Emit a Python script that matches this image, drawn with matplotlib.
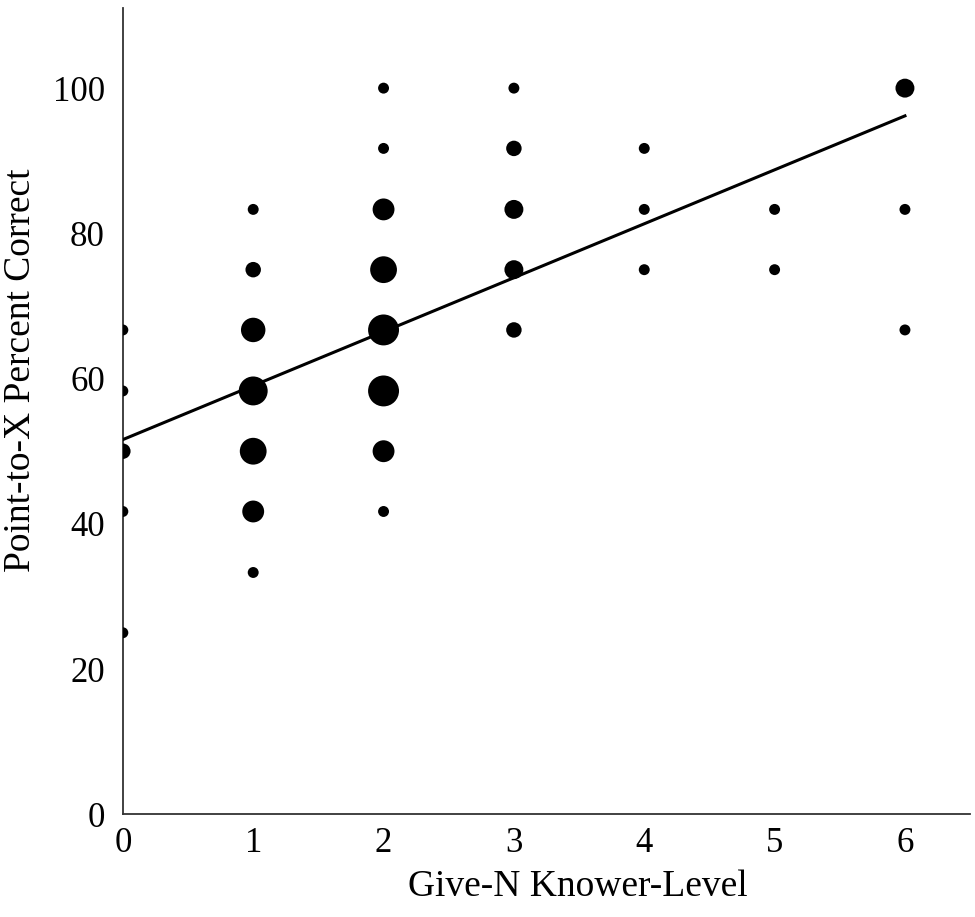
import matplotlib
matplotlib.use("Agg")
import matplotlib.pyplot as plt
import numpy as np

# Data: knower level, percent correct, number of children at that point
knower_level = [0, 0, 0, 0, 0,
                1, 1, 1, 1, 1, 1, 1,
                2, 2, 2, 2, 2, 2, 2, 2,
                3, 3, 3, 3, 3,
                4, 4, 4,
                5, 5,
                6, 6, 6]
percent_correct = [66.7, 58.3, 50.0, 41.7, 25.0,
                   83.3, 75.0, 66.7, 58.3, 50.0, 41.7, 33.3,
                   100.0, 91.7, 83.3, 75.0, 66.7, 58.3, 50.0, 41.7,
                   100.0, 91.7, 83.3, 75.0, 66.7,
                   91.7, 83.3, 75.0,
                   83.3, 75.0,
                   100.0, 83.3, 66.7]
counts = [1, 1, 2, 1, 1,
          1, 2, 5, 7, 6, 4, 1,
          1, 1, 4, 6, 8, 8, 4, 1,
          1, 2, 3, 3, 2,
          1, 1, 1,
          1, 1,
          3, 1, 1]

# Regression line
fit_x = [0, 6]
fit_intercept = 51.6
fit_slope = 7.43

x_ticks = [0, 1, 2, 3, 4, 5, 6]
y_ticks = [0, 20, 40, 60, 80, 100]

plt.rcParams['font.family'] = ['Liberation Serif', 'DejaVu Serif']

fig = plt.figure(figsize=(9.75, 9.17), dpi=100)
ax = fig.add_axes([0.126, 0.112, 0.869, 0.879])

sizes = [62 * c for c in counts]
ax.scatter(knower_level, percent_correct, s=sizes, color='black', linewidths=0, zorder=3)

fx = np.array(fit_x, dtype=float)
ax.plot(fx, fit_intercept + fit_slope * fx, color='black', linewidth=2.2, zorder=4)

ax.set_xlim(0, 6.5)
ax.set_ylim(0, 111)
ax.set_xticks(x_ticks)
ax.set_yticks(y_ticks)
ax.tick_params(axis='y', length=0, labelsize=25, pad=13)
ax.tick_params(axis='x', length=0, labelsize=25, pad=9)

for side in ['top', 'right']:
    ax.spines[side].set_visible(False)
for side in ['left', 'bottom']:
    ax.spines[side].set_color('#333333')
    ax.spines[side].set_linewidth(1.3)

ax.set_xlabel('Give-N Knower-Level', fontsize=27)
ax.xaxis.set_label_coords(0.537, -0.068)
ax.set_ylabel('Point-to-X Percent Correct', fontsize=27)
ax.yaxis.set_label_coords(-0.100, 0.551)

fig.savefig('out.png', dpi=100)
